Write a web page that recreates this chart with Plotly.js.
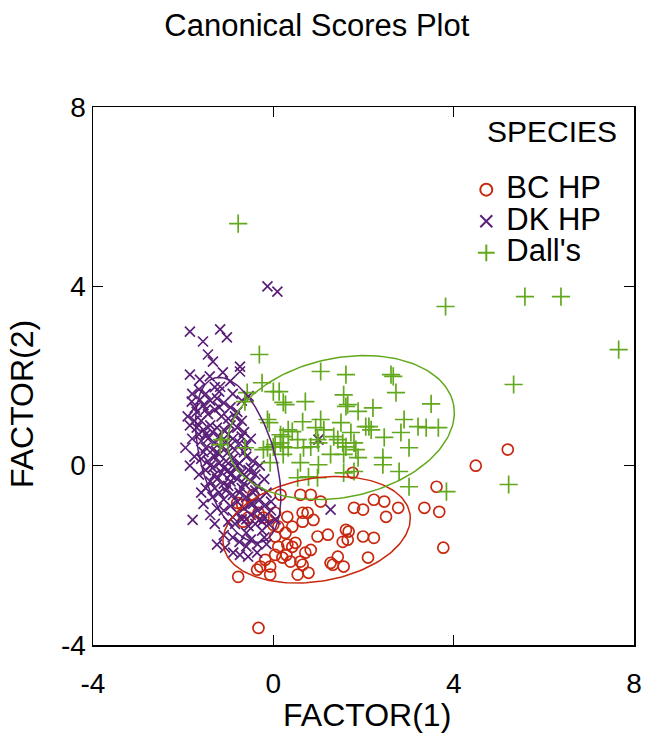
<!DOCTYPE html>
<html>
<head>
<meta charset="utf-8">
<script src="https://cdn.plot.ly/plotly-3.0.1.min.js"></script>
<style>html,body{margin:0;padding:0;background:#fff;}#chart{width:648px;height:737px;}</style>
</head>
<body>
<div id="chart"></div>
<script>
// ---- data ----
const speciesNames = ["BC HP", "DK HP", "Dall's"];
const speciesColors = ["#c8280e", "#5a1f78", "#62a81c"];

const bcX = [5.20,4.49,3.62,3.35,3.68,3.77,2.77,2.50,2.46,2.23,1.99,1.79,1.76,2.10,2.23,1.99,1.61,1.67,1.54,1.65,1.43,1.27,1.56,1.21,0.98,0.83,0.65,0.78,0.54,0.60,0.71,0.49,0.42,0.31,0.42,0.11,0.04,0.11,0.20,0.04,0.89,0.65,0.65,0.76,0.60,0.83,1.05,-0.18,-0.36,-0.29,-0.07,-0.07,-0.78,-0.33,-0.80,-0.56,-0.33,-0.22,-0.67,-0.45,0.04,0.31,1.32,0.29,0.38,0.16,-0.69,0.00,0.27];
const bcY = [0.36,0.00,-0.47,-0.94,-1.03,-1.83,-0.94,-1.14,-0.80,-0.76,-0.98,-0.94,-0.16,-2.05,-1.61,-1.58,-1.43,-1.47,-1.70,-1.65,-2.03,-2.17,-2.25,-1.54,-1.58,-1.88,-2.21,-2.39,-2.43,-2.14,-1.94,-1.72,-1.81,-1.76,-1.36,-1.36,-1.58,-1.81,-2.05,-1.99,-1.21,-1.25,-1.05,-1.05,-0.65,-0.65,-0.80,-2.10,-2.32,-2.25,-2.25,-2.43,-2.48,-3.62,-0.83,-1.16,-1.05,-1.16,-1.25,-0.65,-1.05,-1.14,-2.21,-1.99,-2.14,-0.65,-0.87,-1.32,-1.50];

const dkX = [-1.85,-1.56,-1.18,-1.03,-1.45,-1.34,-1.85,-1.63,-1.41,-1.12,-0.74,-0.74,-1.18,-0.96,-1.81,-1.63,-1.74,-0.13,0.09,-1.79,1.27,1.00,-1.25,-1.07,-0.89,-0.74,-0.56,-0.36,
  -1.90,-1.70,-1.55,-1.40,-1.25,-1.10,-0.95,-0.80,-1.60,-1.45,-1.30,-1.15,-1.00,-0.70,-1.85,
  -1.70,-1.55,-1.40,-1.25,-1.10,-0.95,-0.80,-0.65,-1.80,-1.60,-1.45,-1.30,-1.20,-1.05,-0.90,-0.75,-0.60,-1.50,-1.35,-1.15,-1.00,-0.85,-0.50,
  -1.75,-1.60,-1.45,-1.30,-1.20,-1.05,-0.90,-0.75,-0.60,-0.45,-1.50,-1.35,-1.15,-1.00,-0.85,-0.70,-0.55,-0.40,-1.65,-0.30,
  -1.40,-1.25,-1.10,-0.95,-0.80,-0.65,-0.50,-0.35,-0.20,-1.20,-1.05,-0.90,-0.75,-0.60,-0.45,-0.30,-0.15,-1.50,-1.35,-0.05,
  -1.25,-1.10,-0.95,-0.80,-0.65,-0.50,-0.35,-0.20,-0.05,-1.00,-0.85,-0.70,-0.55,-0.40,-0.25,-0.10,0.05,-1.40,-0.60,
  -0.90,-0.75,-0.50,-0.35,-0.20,-1.10,-1.80,-1.65,-1.30,-0.90,-0.55,-1.50,-1.20,-0.95,-0.45,-0.25,
  -1.75,-1.50,-1.20,-0.85,-1.65,-1.35,-1.00,-0.70,-1.55,-1.25,-0.95,-0.65,-1.40,-1.10,-0.80,-0.50,-1.30,-0.95,-0.60,-1.30,
  -1.00,-0.70,-0.40,-1.10,-0.80,-0.50,-0.20,-0.90,-0.60,-0.30,-1.60,-1.55,-0.15,-0.60,-1.30,-1.50,-1.20,-0.70,-1.95,-1.85];
const dkY = [2.99,2.77,3.04,2.86,2.48,2.32,2.03,1.92,1.99,2.08,2.21,2.10,1.76,1.88,1.43,1.47,1.29,4.00,3.88,-1.21,-0.98,0.58,-1.76,-1.83,-1.94,-1.99,-2.03,-1.94,
  1.10,1.20,1.35,1.45,1.50,1.40,1.30,1.20,1.00,1.15,1.25,1.10,1.05,1.00,0.90,
  0.85,0.80,0.90,0.85,0.80,0.90,0.85,0.75,0.60,0.55,0.60,0.50,0.65,0.55,0.60,0.50,0.45,0.40,0.35,0.40,0.30,0.35,0.60,
  0.20,0.15,0.10,0.20,0.05,0.10,0.15,0.05,0.20,0.10,-0.10,-0.05,-0.15,-0.10,-0.05,-0.15,-0.10,-0.20,-0.20,0.00,
  -0.35,-0.30,-0.40,-0.35,-0.30,-0.40,-0.35,-0.45,-0.30,-0.60,-0.55,-0.65,-0.60,-0.70,-0.60,-0.75,-0.60,-0.50,-0.70,-0.80,
  -0.95,-1.00,-0.90,-1.05,-0.95,-1.10,-1.00,-1.15,-1.00,-1.25,-1.30,-1.20,-1.35,-1.30,-1.45,-1.30,-1.20,-1.10,-1.50,
  -1.60,-1.70,-1.65,-1.75,-1.60,-1.55,1.60,1.70,1.75,1.60,1.55,0.70,0.25,-0.20,-0.85,-1.25,
  1.00,1.25,1.30,1.10,0.70,0.75,0.70,0.65,0.30,0.30,0.45,0.30,0.00,-0.05,0.00,-0.05,-0.20,-0.20,-0.25,-0.50,
  -0.45,-0.50,-0.55,-0.75,-0.80,-0.85,-0.90,-1.15,-1.20,-1.20,-0.60,-0.85,-1.75,-1.80,-1.30,1.60,1.65,1.45,0.40,0.00];

const dallX = [-0.78,3.82,5.58,6.38,7.66,5.33,5.22,3.84,3.50,-0.31,-0.25,0.00,0.13,0.22,0.27,0.71,1.05,1.61,1.56,1.61,-0.63,-0.13,-0.09,0.65,1.05,1.12,0.94,1.50,0.33,0.42,0.16,0.22,0.54,0.00,0.22,0.33,0.67,0.83,0.98,1.00,1.34,1.43,1.61,1.27,1.56,1.00,0.60,0.22,-0.63,-0.22,0.54,0.78,0.98,1.56,2.61,2.66,2.72,1.65,1.88,2.21,2.90,3.21,3.39,3.66,2.05,2.12,2.17,1.72,2.46,2.83,1.54,1.79,1.83,3.01,1.88,2.43,2.43,2.79,1.79,3.01,-0.58,-1.14,-1.18,-0.13,0.04,0.16,-0.07];
const dallY = [5.40,3.55,3.77,3.77,2.59,1.81,-0.42,-0.58,1.38,2.48,1.85,1.65,1.65,1.41,1.36,1.43,2.10,2.03,1.58,1.32,1.43,1.03,0.96,0.98,1.03,0.80,0.85,0.96,0.80,0.76,0.69,0.65,0.58,0.42,0.42,0.40,0.40,0.42,0.58,0.51,0.65,0.58,0.42,0.25,0.25,0.02,0.07,0.25,0.40,0.36,-0.27,-0.25,-0.27,-0.16,2.03,1.99,1.63,1.36,1.21,1.29,1.03,0.87,0.85,0.85,0.87,0.87,0.80,0.74,0.63,0.74,0.51,0.51,0.36,0.40,0.18,0.18,0.02,-0.13,-0.13,-0.47,1.63,0.58,0.47,0.40,0.47,0.51,0.07];

// confidence ellipse parameters per species: centre, semi-axes, rotation (deg)
const ellipseCx = [0.96, -0.78, 1.50];
const ellipseCy = [-1.43, 0.13, 0.85];
const ellipseA = [2.10, 1.90, 2.55];
const ellipseB = [1.15, 0.82, 1.55];
const ellipseAngle = [10, -74, 12];

const axisTicks = [-4, 0, 4, 8];

// ---- build traces ----
function ellipsePath(i) {
  const xs = [], ys = [];
  const th = ellipseAngle[i] * Math.PI / 180;
  for (let k = 0; k <= 180; k++) {
    const t = 2 * Math.PI * k / 180;
    const u = ellipseA[i] * Math.cos(t), v = ellipseB[i] * Math.sin(t);
    xs.push(ellipseCx[i] + u * Math.cos(th) - v * Math.sin(th));
    ys.push(ellipseCy[i] + u * Math.sin(th) + v * Math.cos(th));
  }
  return {x: xs, y: ys};
}

const xsets = [bcX, dkX, dallX];
const ysets = [bcY, dkY, dallY];
const symbols = ["circle-open", "x-thin-open", "cross-thin-open"];
const sizes = [11, 10, 13];

const traces = [];
for (let i = 0; i < 3; i++) {
  traces.push({
    type: "scatter", mode: "markers",
    name: '<span style="font-size:31px">' + speciesNames[i] + '</span>',
    x: xsets[i], y: ysets[i],
    marker: {symbol: symbols[i], size: sizes[i], color: speciesColors[i],
             line: {color: speciesColors[i], width: 1.7}},
    hoverinfo: "x+y"
  });
}
for (let i = 0; i < 3; i++) {
  const p = ellipsePath(i);
  traces.push({
    type: "scatter", mode: "lines", x: p.x, y: p.y, showlegend: false,
    line: {color: speciesColors[i], width: 1.5}, hoverinfo: "skip"
  });
}

const fontFam = "Liberation Sans, Arial, sans-serif";
const layout = {
  width: 648, height: 737,
  paper_bgcolor: "#fff", plot_bgcolor: "#fff",
  margin: {l: 93, r: 14, t: 107, b: 92},
  font: {family: fontFam, color: "#000"},
  title: {text: "Canonical Scores Plot", font: {size: 31, color: "#000"}, x: 0.489, xanchor: "center", y: 0.966, yanchor: "middle"},
  xaxis: {
    range: [-4, 8], tickvals: axisTicks, ticktext: axisTicks.map(String),
    showgrid: false, zeroline: false, showline: true, linecolor: "#000", linewidth: 1.5,
    mirror: "ticks", ticks: "inside", ticklen: 10, tickwidth: 1.5, tickcolor: "#000",
    tickfont: {size: 28}, ticklabelstandoff: 13
  },
  yaxis: {
    range: [-4, 8], tickvals: axisTicks, ticktext: axisTicks.map(String),
    showgrid: false, zeroline: false, showline: true, linecolor: "#000", linewidth: 1.5,
    mirror: "ticks", ticks: "inside", ticklen: 10, tickwidth: 1.5, tickcolor: "#000",
    tickfont: {size: 28}, ticklabelstandoff: 0
  },
  showlegend: true,
  legend: {x: 0.69, y: 0.885, xanchor: "left", yanchor: "top", bgcolor: "rgba(0,0,0,0)",
           font: {size: 22, color: "#000"}, itemsizing: "constant", tracegroupgap: 0},
  annotations: [
    {text: "SPECIES", xref: "paper", yref: "paper", x: 0.848, y: 0.955,
     xanchor: "center", yanchor: "middle", showarrow: false, font: {size: 30, color: "#000"}},
    {text: "FACTOR(1)", xref: "paper", yref: "paper", x: 0.5065, y: -0.130,
     xanchor: "center", yanchor: "middle", showarrow: false, font: {size: 32, color: "#000"}},
    {text: "FACTOR(2)", xref: "paper", yref: "paper", x: -0.131, y: 0.448, textangle: -90,
     xanchor: "center", yanchor: "middle", showarrow: false, font: {size: 32, color: "#000"}}
  ]
};

Plotly.newPlot("chart", traces, layout, {displayModeBar: false, staticPlot: true});
</script>
</body>
</html>
